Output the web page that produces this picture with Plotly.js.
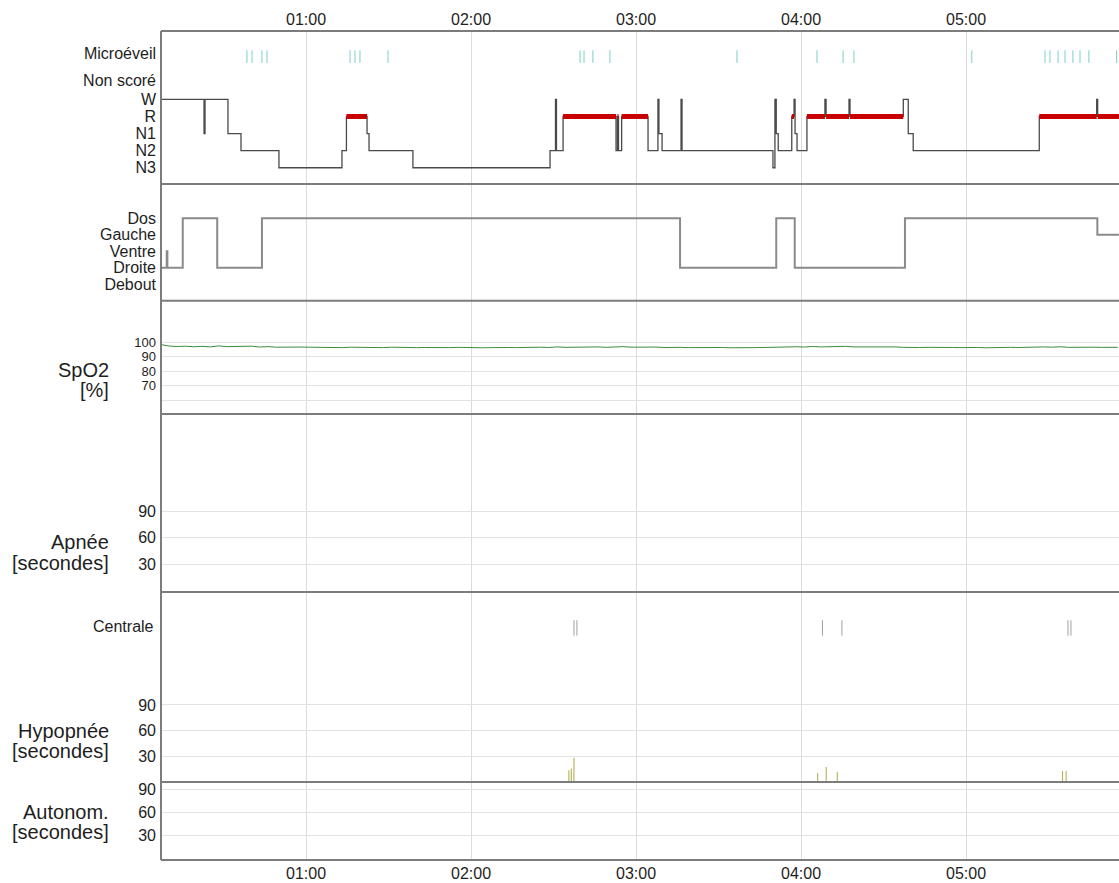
<!DOCTYPE html>
<html><head><meta charset="utf-8">
<script src="https://cdn.plot.ly/plotly-3.0.1.min.js"></script>
<style>html,body{margin:0;padding:0;background:#fff;overflow:hidden}#chart{width:1119px;height:883px}</style>
</head><body><div id="chart"></div>
<script>
// ---------- DATA ----------
const hourTicks = [1, 2, 3, 4, 5];
const hourLabels = ['01:00', '02:00', '03:00', '04:00', '05:00'];
const timeRange = [0.1212, 5.9273]; // hours after midnight

// Hypnogram: W=4, R=3, N1=2, N2=1, N3=0
const stageLabels = ['N3', 'N2', 'N1', 'R', 'W'];
const hypT = [0.121, 0.382, 0.388, 0.527, 0.606, 0.836, 1.218, 1.245, 1.370, 1.382, 1.648, 2.479, 2.512, 2.518, 2.558, 2.879, 2.888, 2.894, 2.913, 3.073, 3.133, 3.139, 3.158, 3.273, 3.279, 3.830, 3.842, 3.850, 3.862, 3.944, 3.958, 3.964, 3.976, 4.036, 4.145, 4.152, 4.291, 4.297, 4.620, 4.650, 4.680, 5.444, 5.792, 5.798, 5.927];
const hypS = [4, 2, 4, 2, 1, 0, 1, 3, 2, 1, 0, 1, 4, 1, 3, 1, 3, 1, 3, 1, 4, 2, 1, 4, 1, 0, 4, 2, 1, 3, 4, 2, 1, 3, 4, 3, 4, 3, 4, 2, 1, 3, 4, 3, 3];
const microeveilT = [0.642, 0.673, 0.733, 0.764, 1.267, 1.297, 1.327, 1.497, 2.661, 2.685, 2.739, 2.842, 3.612, 4.097, 4.255, 4.321, 5.035, 5.479, 5.509, 5.558, 5.600, 5.648, 5.691, 5.745, 5.913];

// Body position: Dos=4, Gauche=3, Ventre=2, Droite=1, Debout=0
const posLabels = ['Debout', 'Droite', 'Ventre', 'Gauche', 'Dos'];
const posT = [0.121, 0.156, 0.160, 0.253, 0.462, 0.733, 3.267, 3.850, 3.962, 4.630, 5.796, 5.927];
const posS = [1, 2, 1, 4, 1, 4, 1, 4, 1, 4, 3, 3];

// SpO2 [%]
const spo2T = [0.12, 0.17, 0.22, 0.27, 0.32, 0.37, 0.42, 0.47, 0.52, 0.57, 0.62, 0.67, 0.72, 0.77, 0.82, 0.87, 0.92, 0.97, 1.02, 1.07, 1.12, 1.17, 1.22, 1.27, 1.32, 1.37, 1.42, 1.47, 1.52, 1.57, 1.62, 1.67, 1.72, 1.77, 1.82, 1.87, 1.92, 1.97, 2.02, 2.07, 2.12, 2.17, 2.22, 2.27, 2.32, 2.37, 2.42, 2.47, 2.52, 2.57, 2.62, 2.67, 2.72, 2.77, 2.82, 2.87, 2.92, 2.97, 3.02, 3.07, 3.12, 3.17, 3.22, 3.27, 3.32, 3.37, 3.42, 3.47, 3.52, 3.57, 3.62, 3.67, 3.72, 3.77, 3.82, 3.87, 3.92, 3.97, 4.02, 4.07, 4.12, 4.17, 4.22, 4.27, 4.32, 4.37, 4.42, 4.47, 4.52, 4.57, 4.62, 4.67, 4.72, 4.77, 4.82, 4.87, 4.92, 4.97, 5.02, 5.07, 5.12, 5.17, 5.22, 5.27, 5.32, 5.37, 5.42, 5.47, 5.52, 5.57, 5.62, 5.67, 5.72, 5.77, 5.82, 5.87, 5.92];
const spo2V = [98.5, 97.5, 97.2, 97.4, 97.0, 97.3, 96.9, 97.6, 97.1, 97.2, 97.0, 97.4, 96.8, 97.1, 96.7, 96.9, 96.6, 96.8, 96.7, 96.5, 96.8, 96.6, 96.4, 96.7, 96.5, 96.8, 96.6, 96.4, 96.7, 96.5, 96.6, 96.4, 96.5, 96.3, 96.5, 96.4, 96.6, 96.4, 96.5, 96.3, 96.4, 96.6, 96.5, 96.4, 96.6, 96.5, 96.7, 96.5, 96.9, 96.6, 96.8, 97.0, 96.7, 96.9, 96.6, 96.8, 97.1, 96.7, 96.9, 96.6, 96.8, 96.5, 96.7, 96.6, 96.4, 96.5, 96.6, 96.4, 96.5, 96.3, 96.5, 96.6, 96.4, 96.5, 96.7, 96.9, 96.6, 97.0, 96.8, 97.2, 96.9, 97.1, 96.8, 97.3, 96.9, 97.0, 96.8, 97.1, 96.8, 96.9, 96.6, 96.8, 96.5, 96.6, 96.4, 96.6, 96.5, 96.4, 96.6, 96.5, 96.3, 96.5, 96.4, 96.6, 96.5, 96.7, 96.6, 96.9, 96.7, 97.0, 96.6, 96.8, 96.5, 96.7, 96.6, 96.8, 96.6];
const spo2Ticks = [60, 70, 80, 90, 100];
const spo2TickText = ['', '70', '80', '90', '100'];

// Apnea / hypopnea / autonomic (seconds)
const secTicks = [30, 60, 90];
const centraleT = [2.624, 2.642, 4.130, 4.248, 5.618, 5.636];
const hypopneaT = [2.593, 2.608, 2.624, 4.101, 4.153, 4.220, 5.585, 5.607];
const hypopneaDur = [13.6, 15.6, 28.0, 10.5, 17.5, 11.7, 12.9, 12.9];
const apneaT = [];
const apneaDur = [];
const autonomT = [];
const autonomDur = [];

// ---------- LAYOUT HELPERS ----------
const W = 1119, H = 883, ML = 161, MT = 31, MB = 23;
const plotH = H - MT - MB;
const py = p => (H - MB - p) / plotH; // pixel y -> paper fraction
const bounds = [184, 300.7, 414, 592, 782];
const doms = [
  [py(bounds[0]), 1],
  [py(bounds[1]), py(bounds[0])],
  [py(bounds[2]), py(bounds[1])],
  [py(bounds[3]), py(bounds[2])],
  [py(bounds[4]), py(bounds[3])],
  [0, py(bounds[4])]
];
const FONT = 'Liberation Sans, Arial, sans-serif';
const tickFont = {family: FONT, size: 16, color: '#1e1e1e'};
const smallTickFont = {family: FONT, size: 13, color: '#1e1e1e'};
const titleFont = {family: FONT, size: 20, color: '#1e1e1e'};
const gridC = '#e2e2e2';

// red REM overlay built from the hypnogram
const remX = [], remY = [];
for (let i = 0; i < hypS.length - 1; i++) {
  if (hypS[i] === 3) { remX.push(hypT[i], hypT[i + 1], null); remY.push(3, 3, null); }
}

const traces = [
  {x: hypT, y: hypS, xaxis: 'x', yaxis: 'y', mode: 'lines', line: {shape: 'hv', color: '#4a4a4a', width: 1.3}},
  {x: remX, y: remY, xaxis: 'x', yaxis: 'y', mode: 'lines', line: {color: '#c80000', width: 5}},
  {x: microeveilT, y: microeveilT.map(() => 6.5), xaxis: 'x', yaxis: 'y', mode: 'markers',
   marker: {symbol: 'line-ns-open', size: 9, color: '#7ccfc6', line: {color: '#7ccfc6', width: 1}}},
  {x: posT, y: posS, xaxis: 'x2', yaxis: 'y2', mode: 'lines', line: {shape: 'hv', color: '#8a8a8a', width: 2}},
  {x: spo2T, y: spo2V, xaxis: 'x3', yaxis: 'y3', mode: 'lines', line: {color: '#3d8a3d', width: 1}},
  {type: 'bar', x: apneaT, y: apneaDur, xaxis: 'x4', yaxis: 'y4', width: 0.007, marker: {color: '#b8b45c'}},
  {x: centraleT, y: centraleT.map(() => 180), xaxis: 'x5', yaxis: 'y5', mode: 'markers',
   marker: {symbol: 'line-ns-open', size: 11, color: '#a0a0a0', line: {color: '#a0a0a0', width: 1}}},
  {type: 'bar', x: hypopneaT, y: hypopneaDur, xaxis: 'x5', yaxis: 'y5', width: 0.007,
   marker: {color: '#b8b45c', line: {width: 0}}},
  {type: 'bar', x: autonomT, y: autonomDur, xaxis: 'x6', yaxis: 'y6', width: 0.007, marker: {color: '#b8b45c'}}
];

const layout = {
  width: W, height: H,
  margin: {l: ML, r: 0, t: MT, b: MB},
  paper_bgcolor: '#ffffff', plot_bgcolor: '#ffffff',
  showlegend: false,
  annotations: [],
  shapes: []
};
const yRanges = [[-0.95, 8], [-1.0, 6.08], [50.3, 129], [-1.7, 200], [0, 222], [-2.5, 100]];
for (let i = 1; i <= 6; i++) {
  const sx = i === 1 ? '' : String(i);
  layout['xaxis' + sx] = {
    domain: [0, 1], range: timeRange, anchor: 'y' + sx, autorange: false,
    tickmode: 'array', tickvals: hourTicks, ticktext: hourLabels,
    showgrid: true, gridcolor: '#dcdcdc', gridwidth: 1, zeroline: false, showline: false,
    showticklabels: i === 1 || i === 6, side: i === 1 ? 'top' : 'bottom',
    ticks: '', tickfont: tickFont, ticklabelstandoff: 2, fixedrange: true
  };
  layout['yaxis' + sx] = {
    domain: doms[i - 1], range: yRanges[i - 1], anchor: 'x' + sx, autorange: false,
    zeroline: false, showline: false, ticks: '', tickfont: tickFont,
    ticklabelstandoff: 4, fixedrange: true, tickmode: 'array',
    showgrid: i >= 3, gridcolor: gridC, gridwidth: 1
  };
}
layout.yaxis.tickvals = [0, 1, 2, 3, 4, 5.13, 6.68];
layout.yaxis.ticktext = stageLabels.concat(['Non scoré', 'Microéveil']);
layout.yaxis2.tickvals = [0, 1, 2, 3, 4];
layout.yaxis2.ticktext = posLabels;
layout.yaxis3.tickvals = spo2Ticks;
layout.yaxis3.ticktext = spo2TickText;
layout.yaxis3.tickfont = smallTickFont;
['yaxis4', 'yaxis5', 'yaxis6'].forEach(k => { layout[k].tickvals = secTicks; layout[k].ticktext = secTicks.map(String); });

// axis titles (two lines, right-aligned)
const titles = [
  ['SpO2', 370], ['[%]', 390],
  ['Apnée', 542], ['[secondes]', 563],
  ['Hypopnée', 731], ['[secondes]', 751],
  ['Autonom.', 812], ['[secondes]', 832]
];
titles.forEach(([t, p]) => layout.annotations.push({
  text: t, xref: 'paper', yref: 'paper', x: 0, y: py(p), xanchor: 'right', yanchor: 'middle',
  xshift: -50, showarrow: false, font: titleFont
}));
layout.annotations.push({text: 'Centrale', xref: 'paper', yref: 'paper', x: 0, y: py(626),
  xanchor: 'right', yanchor: 'middle', xshift: -5, showarrow: false, font: tickFont});

// panel borders
[1].concat(doms.map(d => d[0])).forEach(y => layout.shapes.push({
  type: 'line', xref: 'paper', yref: 'paper', x0: 0, x1: 1, y0: y, y1: y,
  line: {color: '#7c7c7c', width: 2}, layer: 'above'
}));
layout.shapes.push({type: 'line', xref: 'paper', yref: 'paper', x0: 0, x1: 0, y0: 0, y1: 1,
  line: {color: '#7c7c7c', width: 2}, layer: 'above'});

Plotly.newPlot('chart', traces, layout, {staticPlot: true, displayModeBar: false});
</script></body></html>
